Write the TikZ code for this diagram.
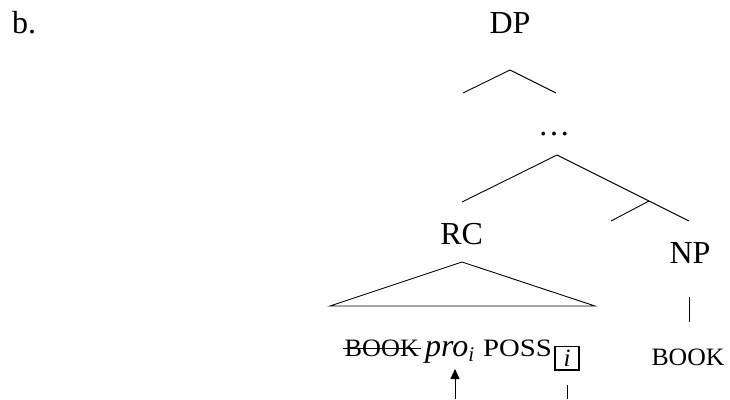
\documentclass[tikz,border=0pt]{standalone}
\usepackage{fontspec}
\setmainfont{Liberation Serif}
\usetikzlibrary{arrows.meta,calc}
\begin{document}
\begin{tikzpicture}[x=1pt,y=-1pt,
  lbl/.style={inner sep=0pt, font=\fontsize{32}{38}\selectfont, anchor=base},
  sc/.style={inner sep=0pt, font=\fontsize{25}{30}\selectfont, anchor=base},
  br/.style={line width=0.9pt},
]
\useasboundingbox (0,0) rectangle (730,399);
\node[lbl, anchor=base west] (ex) at (12,33) {b.};
\node[lbl] (dp) at (510,33.3) {DP};
\coordinate (dpA) at (510,70);
\coordinate (dpL) at (463,93);
\coordinate (dpR) at (556,93);
\draw[br] (dpL) -- (dpA) -- (dpR);
\node[lbl] (dots) at (554,135) {\dots};
\coordinate (cA) at (557,155);
\coordinate (cL) at (462,202);
\coordinate (cR) at (689,221);
\coordinate (cM) at (649,201);
\coordinate (cN) at (611,221);
\draw[br] (cL) -- (cA) -- (cR);
\draw[br] (cM) -- (cN);
\node[lbl] (rc) at (461.7,244.3) {RC};
\coordinate (tA) at (462,262);
\coordinate (tL) at (330,306);
\coordinate (tR) at (595,306);
\draw[br] (tL) -- (tA) -- (tR) -- cycle;
\node[lbl] (np) at (690,263.3) {NP};
\coordinate (npT) at (689,297);
\coordinate (npB) at (689,322);
\draw[br] (npT) -- (npB);
\node[sc] (book2) at (688,365) {\scalebox{1.03}[1]{BOOK}};
\node[sc, anchor=base west] (book1) at (344.5,356.5) {\scalebox{1.05}[1]{BOOK}};
\coordinate (stL) at ($(book1.base west)+(-2,-8.3)$);
\coordinate (stR) at ($(book1.base east)+(2,-8.3)$);
\draw[br] (stL) -- (stR);
\node[lbl, anchor=base west, font=\fontsize{32}{38}\selectfont\itshape] (pro) at (425,356.5) {pro\raisebox{-4.5pt}{\fontsize{21}{22}\selectfont i}};
\node[sc, anchor=base west] (poss) at (483,356.5) {\scalebox{1.15}[1]{POSS}};
\node[draw, line width=1.3pt, minimum width=24pt, minimum height=23.3pt, inner sep=0pt, font=\fontsize{25}{28}\selectfont\itshape] (idx) at (567,358.3) {i};
\coordinate (arB) at (455,399);
\coordinate (arT) at (455,369);
\draw[line width=0.9pt, -{Triangle[length=10pt,width=9pt]}] (arB) -- (arT);
\coordinate (lnB) at (567,399);
\coordinate (lnT) at (567,385);
\draw[br] (lnB) -- (lnT);
\end{tikzpicture}
\end{document}
